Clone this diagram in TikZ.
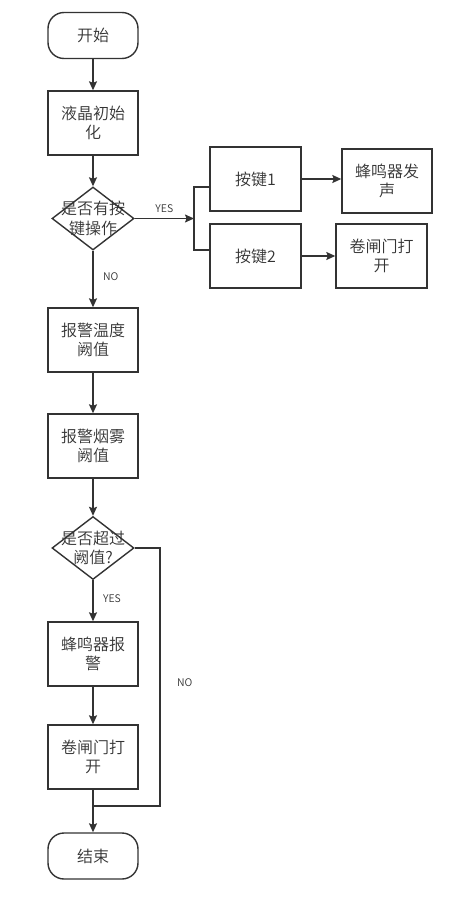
\documentclass[tikz,border=0pt]{standalone}
\usepackage{fontspec}
\setmainfont{Noto Sans CJK SC DemiLight}
\usetikzlibrary{shapes.geometric,arrows.meta}
\definecolor{ink}{HTML}{333333}
\begin{document}
\begin{tikzpicture}[x=1pt,y=-1pt,
  every node/.style={text=ink},
  line/.style={draw=ink,line width=1.4pt},
  arr/.style={line,-{Stealth[length=9pt,width=8pt,inset=1.5pt]}},
  box/.style={draw=ink,line width=1.4pt,fill=white,minimum width=90pt,minimum height=64pt,inner sep=0pt,align=center,font=\fontsize{16}{19.5}\selectfont},
  term/.style={box,minimum height=46pt,rounded corners=16pt},
  dia/.style={draw=ink,line width=1.4pt,fill=white,diamond,minimum width=82pt,minimum height=63pt,inner sep=0pt},
  lbl/.style={font=\fontsize{10.5}{12}\selectfont},
]
\useasboundingbox (0,0) rectangle (453,899);
\node[term] (start) at (93,35.5) {开始};
\node[box] (init) at (93,123) {液晶初始\\化};
\node[dia,label={[align=center,font=\fontsize{16}{19.5}\selectfont,text=ink]center:是否有按\\键操作}] (d1) at (93,218.5) {};
\node[box,minimum width=91pt] (k1) at (255.5,179) {按键1};
\node[box,minimum width=91pt] (k2) at (255.5,256) {按键2};
\node[box] (b1) at (387,181) {蜂鸣器发\\声};
\node[box,minimum width=91pt] (b2) at (381.5,256) {卷闸门打\\开};
\node[box] (temp) at (93,340) {报警温度\\阙值};
\node[box] (smoke) at (93,446) {报警烟雾\\阙值};
\node[dia,label={[align=center,font=\fontsize{16}{19.5}\selectfont,text=ink]center:是否超过\\阙值?}] (d2) at (93,548) {};
\node[box] (alarm) at (93,654) {蜂鸣器报\\警};
\node[box] (door) at (93,757) {卷闸门打\\开};
\node[term] (end) at (93,856) {结束};
\coordinate (br) at (194,218.5);
\coordinate (bt) at (194,187);
\coordinate (bb) at (194,250);
\coordinate (nr) at (160,548);
\coordinate (nb) at (160,806);
\coordinate (j) at (93,806);

\draw[arr] (start) -- (init);
\draw[arr] (init) -- (d1);
\draw[arr] (d1.east) -- node[lbl,above=2pt,pos=0.5] (yes1) {YES} (br);
\draw[line] (k1.west |- bt) -- (bt) -- (bb) -- (k2.west |- bb);
\draw[arr] (k1.east) -- (k1.east -| b1.west);
\draw[arr] (k2.east) -- (k2.east -| b2.west);
\draw[arr] (d1.south) -- node[lbl,right=6pt,pos=0.45] (no1) {NO} (temp.north);
\draw[arr] (temp) -- (smoke);
\draw[arr] (smoke) -- (d2.north);
\draw[arr] (d2.south) -- node[lbl,right=6pt,pos=0.45] (yes2) {YES} (alarm.north);
\draw[arr] (alarm) -- (door);
\draw[arr] (door) -- (end);
\draw[line] (d2.east) -- (nr) -- node[lbl,right=13pt,pos=0.52] (no2) {NO} (nb) -- (j);
\end{tikzpicture}
\end{document}
